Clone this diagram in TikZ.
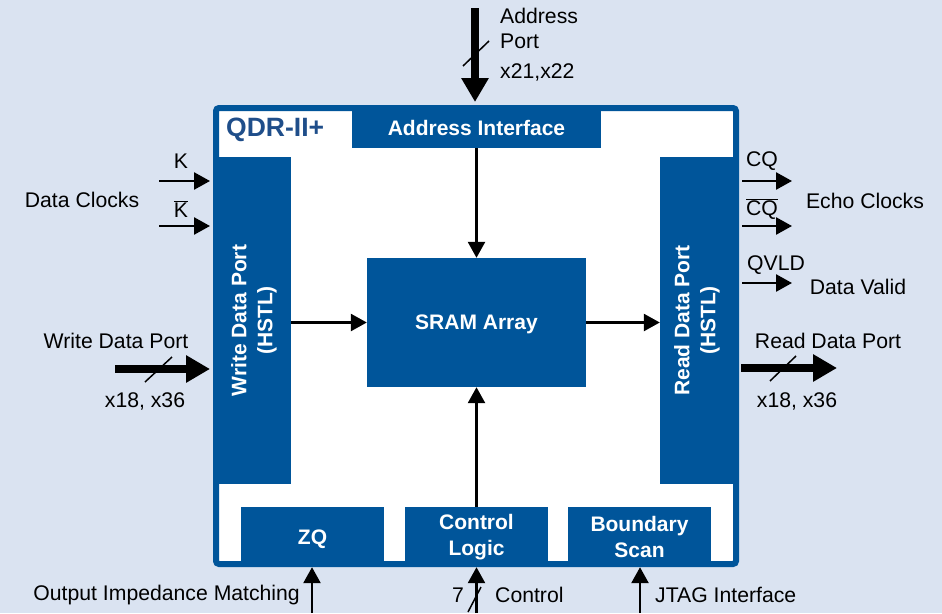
\documentclass[tikz,border=0pt]{standalone}
\usepackage{fontspec}
\setmainfont{Liberation Sans}
\usetikzlibrary{arrows.meta}
\definecolor{bgc}{HTML}{DAE3F1}
\definecolor{chipblue}{HTML}{00559A}
\definecolor{qdrblue}{HTML}{1F4E8A}
\begin{document}
\begin{tikzpicture}[x=1pt,y=-1pt,
  lbl/.style={font=\fontsize{21.2}{25}\selectfont, inner sep=0pt, text=black},
  blk/.style={fill=chipblue, text=white, font=\fontsize{21}{26}\selectfont\bfseries, inner sep=0pt, align=center},
  thinarr/.style={line width=2.6pt, -{Triangle[length=16pt,width=17pt]}},
  thickarr/.style={line width=8pt, -{Triangle[length=24pt,width=26pt]}},
  slash/.style={line width=1.5pt}]
\fill[bgc] (0,0) rectangle (942,613);
\useasboundingbox (0,0) rectangle (942,613);

% chip outline
\node[draw=chipblue, line width=6pt, rounded corners=3pt, fill=white,
      minimum width=520pt, minimum height=456pt, inner sep=0pt] (chip) at (476,336) {};

% blocks
\node[blk, text depth=0pt, minimum width=249pt, minimum height=40pt] (addr) at (476.5,128) {Address Interface};
\node[blk, rotate=90, minimum width=327pt, minimum height=74pt] (wdp) at (254,320.5) {Write Data Port\\(HSTL)};
\node[blk, rotate=90, minimum width=327pt, minimum height=74pt] (rdp) at (697,320.5) {Read Data Port\\(HSTL)};
\node[blk, text depth=0pt, minimum width=219pt, minimum height=129pt] (sram) at (476.5,322.5) {SRAM Array};
\node[blk, text depth=0pt, minimum width=143pt, minimum height=60pt] (zq) at (312.5,537) {ZQ};
\node[blk, minimum width=143pt, minimum height=60pt] (ctrl) at (476.5,537) {\rule{0pt}{3pt}Control\\Logic};
\node[blk, minimum width=143pt, minimum height=60pt] (bnd) at (639.5,537) {\rule{0pt}{3pt}Boundary\\Scan};
\node[anchor=west, text=qdrblue, font=\fontsize{26.5}{30}\selectfont\bfseries, inner sep=0pt] (qdr) at (226,130) {QDR-II+};

% internal connectors
\draw[thinarr] (addr.south) -- (sram.north);
\draw[thinarr] (ctrl.north) -- (sram.south);
\draw[thinarr] (wdp.south |- sram.west) -- (sram.west);
\draw[thinarr] (sram.east) -- (sram.east -| rdp.north);

% address port
\coordinate (asrc) at (475,8);
\draw[thickarr, shorten >=3pt] (asrc) -- (asrc |- chip.north);
\draw[slash] (463,66) -- (489,41);
\node[lbl, anchor=west] (ap1) at (500,16) {Address};
\node[lbl, anchor=west] (ap2) at (500,41) {Port};
\node[lbl, anchor=west] (ap3) at (500,72) {x21,x22};

% data clocks
\coordinate (k1) at (159,181);
\coordinate (k2) at (159,226);
\draw[thinarr, shorten >=3pt] (k1) -- (k1 -| chip.west);
\draw[thinarr, shorten >=3pt] (k2) -- (k2 -| chip.west);
\node[lbl] (klbl) at (181,161) {K};
\node[lbl] (kblbl) at (181,209) {$\overline{\mbox{K}}$};
\node[lbl] (dclk) at (82,200) {Data Clocks};

% echo clocks
\coordinate (cq1) at (792,181);
\coordinate (cq2) at (792,226);
\coordinate (qv) at (792,283);
\draw[thinarr, shorten <=3pt] (cq1 -| chip.east) -- (cq1);
\draw[thinarr, shorten <=3pt] (cq2 -| chip.east) -- (cq2);
\draw[thinarr, shorten <=3pt] (qv -| chip.east) -- (qv);
\node[lbl] (cqlbl) at (762,161) {CQ};
\node[lbl] (cqblbl) at (762,209) {$\overline{\mbox{CQ}}$};
\node[lbl] (eclk) at (865,201) {Echo Clocks};
\node[lbl] (qvld) at (776,265) {QVLD};
\node[lbl] (dval) at (858,287) {Data Valid};

% write data port
\coordinate (wsrc) at (115,369);
\draw[thickarr, shorten >=3pt] (wsrc) -- (wsrc -| chip.west);
\draw[slash] (145,382) -- (172,357);
\node[lbl] (wlbl) at (116,341) {Write Data Port};
\node[lbl] (wx) at (145,401) {x18, x36};

% read data port
\coordinate (rdst) at (837,368);
\draw[thickarr, shorten <=2pt] (rdst -| chip.east) -- (rdst);
\draw[slash] (770,381) -- (796,356);
\node[lbl] (rlbl) at (828,341) {Read Data Port};
\node[lbl] (rx) at (797,401) {x18, x36};

% bottom inputs
\coordinate (zqin) at (312,613);
\coordinate (ctin) at (476.5,613);
\coordinate (jtin) at (640,613);
\draw[thinarr] (zqin) -- (zqin |- zq.south);
\draw[thinarr] (ctin) -- (ctin |- ctrl.south);
\draw[thinarr] (jtin) -- (jtin |- bnd.south);
\draw[slash] (468,612) -- (481,587);
\node[lbl, anchor=east] (oim) at (300,595) {Output Impedance Matching};
\node[lbl] (seven) at (458,595) {7};
\node[lbl, anchor=west] (ctl) at (495,595) {Control};
\node[lbl, anchor=west] (jtag) at (655,595) {JTAG Interface};
\end{tikzpicture}
\end{document}
